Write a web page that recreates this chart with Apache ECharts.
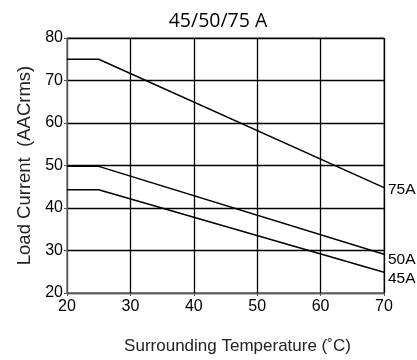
<!DOCTYPE html>
<html>
<head>
<meta charset="utf-8">
<script src="https://cdn.jsdelivr.net/npm/echarts@6/dist/echarts.min.js"></script>
<style>
  html, body { margin: 0; padding: 0; background: #fff; }
  #chart { width: 417px; height: 360px; }
</style>
</head>
<body>
<div id="chart"></div>
<script>
// Derating curves: load current vs surrounding temperature
const temps = [20, 25, 70];
const curve75A = [75, 75, 44.8];
const curve50A = [49.8, 49.8, 29.1];
const curve45A = [44.3, 44.3, 24.9];
const seriesNames = ['75A', '50A', '45A'];
const xTicks = { min: 20, max: 70, step: 10 };
const yTicks = { min: 20, max: 80, step: 10 };

const labelFont = 'Liberation Sans, Arial, sans-serif';

function pairs(xs, ys) {
  return xs.map((x, i) => [x, ys[i]]);
}

function curve(name, values, labelOffsetY) {
  return {
    name: name,
    type: 'line',
    data: pairs(temps, values),
    symbol: 'none',
    lineStyle: { color: '#000', width: 1.5 },
    endLabel: {
      show: true,
      formatter: name,
      color: '#000',
      fontFamily: labelFont,
      fontSize: 15.5,
      distance: 4,
      offset: [0, labelOffsetY]
    },
    silent: true,
    animation: false
  };
}

const chart = echarts.init(document.getElementById('chart'), null, { renderer: 'canvas' });
chart.setOption({
  animation: false,
  backgroundColor: '#fff',
  title: {
    text: '45/50/75 A',
    left: 213,
    textAlign: 'center',
    top: 6,
    textStyle: { fontFamily: 'Open Sans, sans-serif', fontWeight: 'normal', fontSize: 19.5, color: '#000' }
  },
  grid: { left: 67, right: 33, top: 38, bottom: 67, show: true, borderColor: '#555', borderWidth: 1 },
  xAxis: {
    type: 'value',
    min: xTicks.min,
    max: xTicks.max,
    interval: xTicks.step,
    name: 'Surrounding Temperature (˚C)',
    nameLocation: 'middle',
    nameGap: 45,
    nameTextStyle: { fontFamily: labelFont, fontSize: 17, color: '#222', padding: [0, 0, 0, 24] },
    axisLine: { show: true, lineStyle: { color: '#555', width: 1 } },
    axisTick: { show: true, length: 3, lineStyle: { color: '#555' } },
    axisLabel: { fontFamily: labelFont, fontSize: 16, color: '#000', margin: 6 },
    splitLine: { show: true, lineStyle: { color: '#000', width: 1.3 } }
  },
  yAxis: {
    type: 'value',
    min: yTicks.min,
    max: yTicks.max,
    interval: yTicks.step,
    name: 'Load Current  (AACrms)',
    nameLocation: 'middle',
    nameGap: 31,
    nameTextStyle: { fontFamily: labelFont, fontSize: 18.5, color: '#222' },
    axisLine: { show: true, lineStyle: { color: '#555', width: 1 } },
    axisTick: { show: true, length: 3, lineStyle: { color: '#555' } },
    axisLabel: { fontFamily: labelFont, fontSize: 16, color: '#000', margin: 4 },
    splitLine: { show: true, lineStyle: { color: '#000', width: 1.3 } }
  },
  series: [
    curve(seriesNames[0], curve75A, 2),
    curve(seriesNames[1], curve50A, 5),
    curve(seriesNames[2], curve45A, 7)
  ]
});
</script>
</body>
</html>
